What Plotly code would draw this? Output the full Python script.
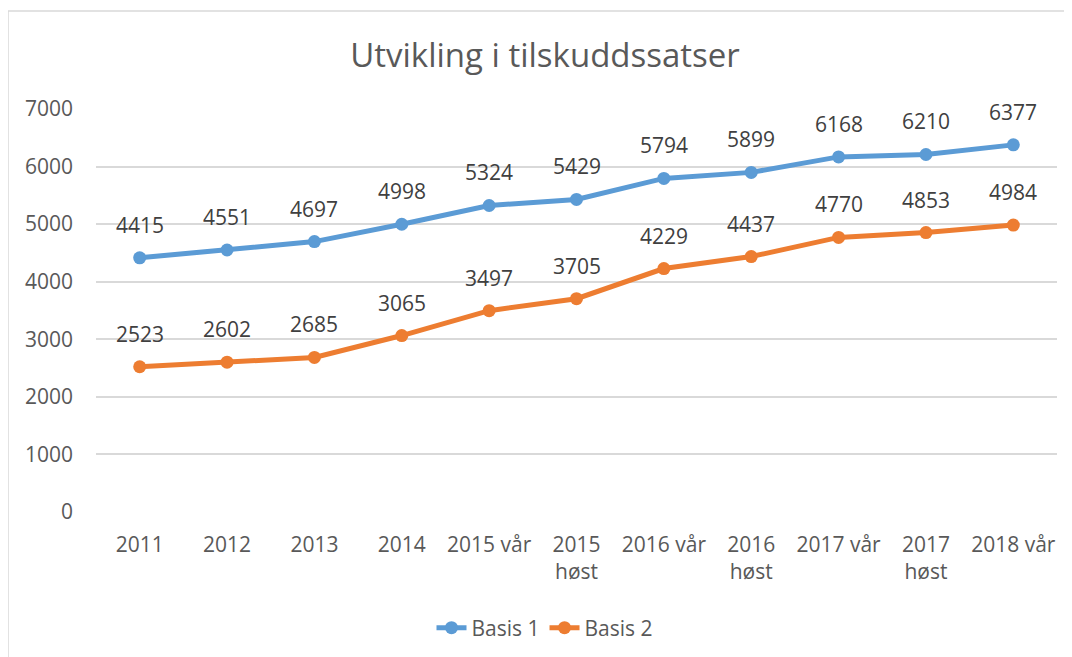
import plotly.graph_objects as go

categories = ["2011", "2012", "2013", "2014", "2015 vår", "2015<br>høst", "2016 vår",
              "2016<br>høst", "2017 vår", "2017<br>høst", "2018 vår"]
basis1 = [4415, 4551, 4697, 4998, 5324, 5429, 5794, 5899, 6168, 6210, 6377]
basis2 = [2523, 2602, 2685, 3065, 3497, 3705, 4229, 4437, 4770, 4853, 4984]
y_ticks = [0, 1000, 2000, 3000, 4000, 5000, 6000, 7000]

BLUE = "#5B9BD5"
ORANGE = "#ED7D31"
TXT = "#595959"
FONT = "Open Sans"

fig = go.Figure()
for name, vals, col in [("Basis 1", basis1, BLUE), ("Basis 2", basis2, ORANGE)]:
    fig.add_trace(go.Scatter(
        x=categories, y=vals, name=name, mode="lines+markers",
        line=dict(color=col, width=5),
        marker=dict(color=col, size=13),
    ))
    for i, v in enumerate(vals):
        fig.add_annotation(x=i, y=v, text=str(v), showarrow=False, yshift=33,
                           font=dict(family=FONT, size=21, color="#404040"))

# page body has an 8px offset; compensate so the plot area lands at the reference spot
OFF = 8
W, H = 1072, 657
L, R, T, B = 96 - OFF, 15 + OFF, 109 - OFF, 145 + OFF
pw = W - L - R
ph = H - T - B

fig.add_shape(type="rect", xref="paper", yref="paper",
              x0=(8 - OFF - L) / pw, x1=1.2, y0=-0.6, y1=(H - B - (11 - OFF)) / ph,
              line=dict(color="#D9D9D9", width=1.5), fillcolor="rgba(0,0,0,0)", layer="below")

fig.update_layout(
    width=W, height=H,
    margin=dict(l=L, r=R, t=T, b=B, autoexpand=False),
    paper_bgcolor="white", plot_bgcolor="white",
    font=dict(family=FONT, color=TXT, size=21),
    title=dict(text="Utvikling i tilskuddssatser", x=(545 - OFF) / W, xanchor="center",
               y=1 - (55 - OFF) / H, yanchor="middle", yref="container",
               font=dict(family=FONT, size=33, color=TXT)),
    xaxis=dict(type="category", showgrid=False, zeroline=False, showline=False,
               ticks="", tickfont=dict(size=21, color=TXT), range=[-0.5, 10.5],
               ticklabelstandoff=18),
    yaxis=dict(range=[0, 7000], tickvals=y_ticks, showgrid=True, gridcolor="#D9D9D9",
               gridwidth=1.5, zeroline=False, showline=False, ticks="",
               tickfont=dict(size=21, color=TXT), ticklabelstandoff=22),
    legend=dict(orientation="h", x=(545 - OFF - L) / pw, xanchor="center",
                y=(H - B - (628 - OFF)) / ph, yanchor="middle",
                font=dict(size=21, color=TXT)),
    showlegend=True,
)

fig.write_html("out.html")
